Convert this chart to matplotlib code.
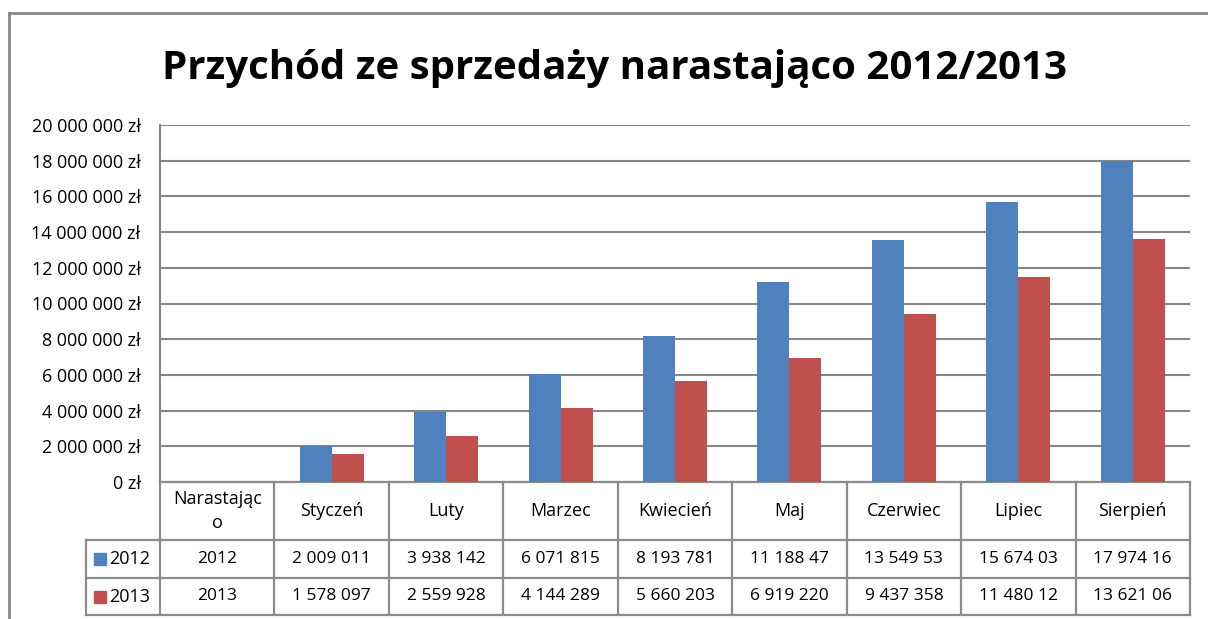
import numpy as np
import matplotlib.pyplot as plt
from matplotlib.lines import Line2D
from matplotlib.patches import Rectangle
from matplotlib.ticker import FuncFormatter

categories = ["Narastając\no", "Styczeń", "Luty", "Marzec", "Kwiecień", "Maj",
              "Czerwiec", "Lipiec", "Sierpień"]
series_names = ["2012", "2013"]
values_2012 = [2012, 2009011, 3938142, 6071815, 8193781, 11188470,
               13549530, 15674030, 17974160]
values_2013 = [2013, 1578097, 2559928, 4144289, 5660203, 6919220,
               9437358, 11480120, 13621060]
# table text as shown in the chart (Excel cuts the long numbers)
labels_2012 = ["2012", "2 009 011", "3 938 142", "6 071 815", "8 193 781",
               "11 188 47", "13 549 53", "15 674 03", "17 974 16"]
labels_2013 = ["2013", "1 578 097", "2 559 928", "4 144 289", "5 660 203",
               "6 919 220", "9 437 358", "11 480 12", "13 621 06"]
title = "Przychód ze sprzedaży narastająco 2012/2013"

colors = ["#4F81BD", "#C0504D"]
grid_col = "#868686"
font = "Open Sans"

W, H = 1208, 619
fig = plt.figure(figsize=(W / 100, H / 100), dpi=100)

# plot area in pixels
left, right, top, bottom = 160, 1190, 125, 482
ax = fig.add_axes([left / W, 1 - bottom / H, (right - left) / W, (bottom - top) / H])

n = len(categories)
x = np.arange(n)
bw = 0.28
ax.bar(x - bw / 2, values_2012, bw, color=colors[0], zorder=3)
ax.bar(x + bw / 2, values_2013, bw, color=colors[1], zorder=3)

ax.set_xlim(-0.5, n - 0.5)
ax.set_ylim(0, 20000000)
ax.set_yticks(np.arange(0, 20000001, 2000000))
ax.yaxis.set_major_formatter(FuncFormatter(
    lambda v, p: f"{int(v):,}".replace(",", " ") + " zł"))
ax.tick_params(axis="y", length=0, pad=14, labelsize=13)
for lab in ax.get_yticklabels():
    lab.set_fontfamily(font)
ax.set_xticks([])
ax.grid(axis="y", color=grid_col, linewidth=1.5, zorder=0)
for s in ["top", "right", "bottom"]:
    ax.spines[s].set_visible(False)
ax.spines["left"].set_color(grid_col)
ax.spines["left"].set_linewidth(1.5)

# data table under the axis
trans = ax.get_xaxis_transform()
px = (bottom - top)  # pixels per axes unit (y)
def ay(ypix):
    return (bottom - ypix) / px

row_y = [482, 540, 578, 615]
lw = 1.6
tc = "#8c8c8c"
# horizontal lines
for yy in row_y:
    ax.add_line(Line2D([-0.5, n - 0.5], [ay(yy)] * 2, transform=trans, color=tc, lw=lw, clip_on=False))
# vertical lines
for i in range(n + 1):
    ax.add_line(Line2D([i - 0.5, i - 0.5], [ay(row_y[0]), ay(row_y[3])], transform=trans,
                       color=tc, lw=lw, clip_on=False))
# legend cells at left
legend_left = 86
ftr = fig.transFigure
for yy in row_y[1:]:
    fig.add_artist(Line2D([legend_left / W, left / W], [1 - yy / H] * 2, transform=ftr, color=tc, lw=lw))
fig.add_artist(Line2D([legend_left / W] * 2, [1 - row_y[1] / H, 1 - row_y[3] / H], transform=ftr, color=tc, lw=lw))

for i, name in enumerate(series_names):
    yc = (row_y[i + 1] + row_y[i + 2]) / 2
    fig.add_artist(Rectangle(((legend_left + 8) / W, 1 - (yc + 6) / H), 12 / W, 12 / H,
                             transform=ftr, color=colors[i]))
    fig.text((legend_left + 23) / W, 1 - yc / H, name, ha="left", va="center",
             fontsize=13, family=font)

yc_head = (row_y[0] + row_y[1]) / 2
for i, c in enumerate(categories):
    ax.text(i, ay(yc_head), c, transform=trans, ha="center", va="center",
            fontsize=13, family=font, linespacing=1.45)
    for r, labs in enumerate([labels_2012, labels_2013]):
        yc = (row_y[r + 1] + row_y[r + 2]) / 2
        ax.text(i, ay(yc), labs[i], transform=trans, ha="center", va="center",
                fontsize=12.5, family=font)

fig.text(615 / W, 1 - 68 / H, title, ha="center", va="center",
         fontsize=29, fontweight="bold", family=font)

# chart frame (cut off at the right and bottom of the picture)
fig.add_artist(Line2D([9 / W, 1], [1 - 13 / H] * 2, transform=ftr, color=grid_col, lw=2))
fig.add_artist(Line2D([9 / W] * 2, [1 - 13 / H, 0], transform=ftr, color=grid_col, lw=2))

fig.savefig("out.png", dpi=100)
